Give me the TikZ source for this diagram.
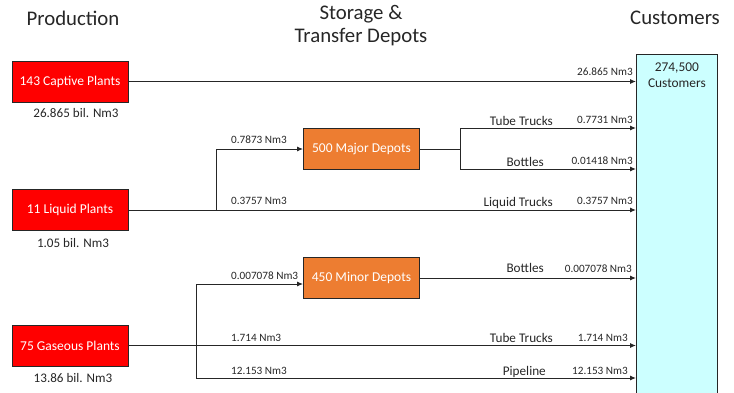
\documentclass[tikz,border=0pt]{standalone}
\usepackage{fontspec}
\setmainfont{Carlito}
\usetikzlibrary{arrows.meta}
\definecolor{plantred}{HTML}{FF0000}
\definecolor{depotorange}{HTML}{ED7D31}
\definecolor{custcyan}{HTML}{CCFFFF}
\definecolor{edgegray}{HTML}{262626}
\definecolor{txtgray}{HTML}{262626}
\begin{document}
\begin{tikzpicture}[x=1pt,y=-1pt,
  plant/.style={draw=edgegray, fill=plantred, text=white, minimum width=116pt, minimum height=41pt, inner sep=0pt, line width=0.8pt, font=\fontsize{13.5}{15}\selectfont},
  depot/.style={plant, fill=depotorange},
  conn/.style={draw=edgegray, line width=1pt},
  flow/.style={conn, -{Latex[length=6pt,width=5pt]}},
  amt/.style={font=\fontsize{11.2}{13}\selectfont, inner sep=0pt, text=txtgray},
  route/.style={font=\fontsize{13.2}{15}\selectfont, inner sep=0pt, text=txtgray},
  bil/.style={font=\fontsize{13.1}{15}\selectfont, inner sep=0pt, text=txtgray},
  head/.style={font=\fontsize{20.8}{23}\selectfont, inner sep=0pt, align=center, text=txtgray},
]
\useasboundingbox (0,0) rectangle (734,392);
% headers
\node[head, anchor=base] (hprod) at (73,25) {Production};
\node[head, anchor=base] (hstor1) at (361,19) {Storage \&};
\node[head, anchor=base] (hstor2) at (361,42) {Transfer Depots};
\node[head, anchor=base] (hcust) at (675,24) {Customers};
% customers box
\node[draw=edgegray, fill=custcyan, line width=0.8pt, anchor=north west, minimum width=81pt, minimum height=350pt, inner sep=0pt,
  label={[anchor=north, yshift=-9pt, align=center, inner sep=0pt, text=txtgray, font=\fontsize{13.4}{16}\selectfont]north:{274,500\\Customers}}] (cust) at (636,54) {};
% plants
\node[plant] (cap) at (70,81.5) {143 Captive Plants};
\node[plant] (liq) at (70,210) {11 Liquid Plants};
\node[plant] (gas) at (70,345.5) {75 Gaseous Plants};
\node[bil, anchor=base] (capb) at (76,117) {26.865 bil. Nm3};
\node[bil, anchor=base] (liqb) at (73,247) {1.05 bil. Nm3};
\node[bil, anchor=base] (gasb) at (73,382) {13.86 bil. Nm3};
% depots
\node[depot] (maj) at (361.5,149) {500 Major Depots};
\node[depot] (min) at (361.5,278) {450 Minor Depots};
% junctions
\coordinate (j1) at (216,210);
\coordinate (j2) at (460,149);
\coordinate (jt) at (460,128);
\coordinate (jb) at (460,169);
\coordinate (j3) at (196,346);
\coordinate (j4) at (196,378);
% connectors
\draw[flow] (cap.east) -- (cap.east -| cust.west);
\draw[flow] (liq.east) -- (liq.east -| cust.west);
\draw[flow] (j1) |- (maj.west);
\draw[conn] (maj.east) -- (j2);
\draw[flow] (j2) -- (jt) -- (jt -| cust.west);
\draw[flow] (j2) -- (jb) -- (jb -| cust.west);
\draw[flow] (min.east) -- (min.east -| cust.west);
\draw[flow] (gas.east) -- (gas.east -| cust.west);
\draw[flow] (j3) |- ([yshift=-6pt]min.west);
\draw[flow] (j3) -- (j4) -- (j4 -| cust.west);
% amounts near customers
\node[amt, anchor=base east] (a1) at (633,75) {26.865 Nm3};
\node[amt, anchor=base east] (a2) at (633,123) {0.7731 Nm3};
\node[amt, anchor=base east] (a3) at (633,164) {0.01418 Nm3};
\node[amt, anchor=base east] (a4) at (633,204) {0.3757 Nm3};
\node[amt, anchor=base east] (a5) at (632,272) {0.007078 Nm3};
\node[amt, anchor=base east] (a6) at (628,341) {1.714 Nm3};
\node[amt, anchor=base east] (a7) at (628,374) {12.153 Nm3};
% amounts on left
\node[amt, anchor=base west] (b1) at (231,143) {0.7873 Nm3};
\node[amt, anchor=base west] (b2) at (231,204) {0.3757 Nm3};
\node[amt, anchor=base west] (b3) at (231,279) {0.007078 Nm3};
\node[amt, anchor=base west] (b4) at (231,341) {1.714 Nm3};
\node[amt, anchor=base west] (b5) at (231,374) {12.153 Nm3};
% routes
\node[route, anchor=base east] (r1) at (553,125) {Tube Trucks};
\node[route, anchor=base east] (r2) at (544,166) {Bottles};
\node[route, anchor=base east] (r3) at (553,206) {Liquid Trucks};
\node[route, anchor=base east] (r4) at (544,272) {Bottles};
\node[route, anchor=base east] (r5) at (553,342) {Tube Trucks};
\node[route, anchor=base east] (r6) at (546,375) {Pipeline};
\end{tikzpicture}
\end{document}
